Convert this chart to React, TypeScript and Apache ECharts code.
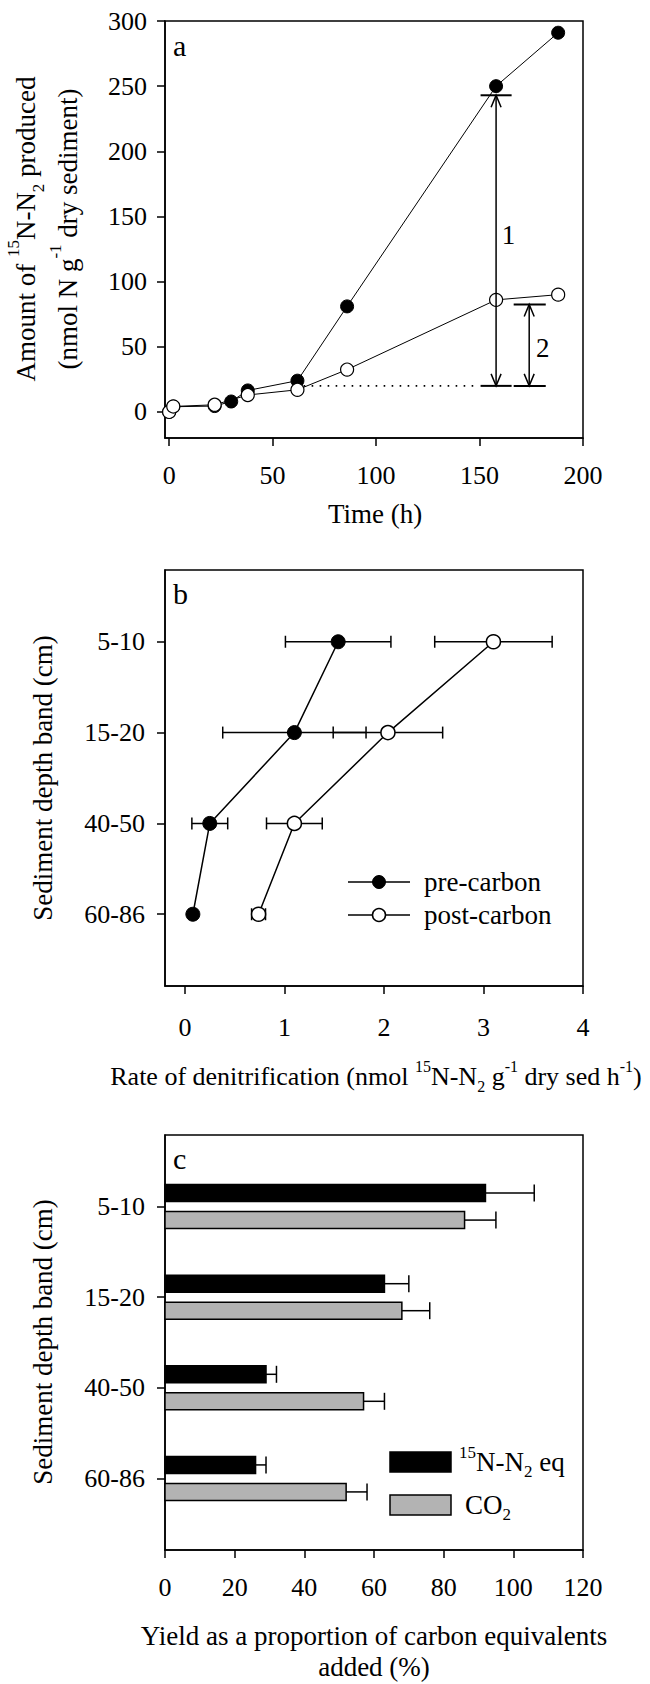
import React, { useEffect, useRef } from "react";
import * as echarts from "echarts";

const FONT = "'Liberation Serif', 'Times New Roman', Times, serif";

// ---------- Panel a: 15N-N2 produced over time ----------
const timePre = [0, 2, 22, 30, 38, 62, 86, 158, 188];
const amountPre = [0, 4, 4.5, 8, 16.5, 24, 81, 250, 291];
const timePost = [0, 2, 22, 38, 62, 86, 158, 188];
const amountPost = [0, 4.2, 5.5, 13, 17, 32.5, 86, 90];
const timeTicks = [0, 50, 100, 150, 200];
const amountTicks = [0, 50, 100, 150, 200, 250, 300];
const baselineTime = [65, 150];
const baselineAmount = [20, 20];
const bracketLabels = ["1", "2"];
const bracketTime = [158, 174];
const bracketFrom = [20, 20];
const bracketTo = [243, 82.5];
const capStart = [150.5, 166.5];
const capEnd = [165.5, 182];
const bracketLabelTime = [164, 180.5];
const bracketLabelAmount = [136, 49];

// ---------- Panel b: denitrification rate by depth ----------
const depthBands = ["5-10", "15-20", "40-50", "60-86"];
const preRate = [1.54, 1.1, 0.25, 0.08];
const preRateErr = [0.53, 0.72, 0.18, 0.03];
const postRate = [3.1, 2.04, 1.1, 0.74];
const postRateErr = [0.59, 0.55, 0.28, 0.07];
const rateTicks = [0, 1, 2, 3, 4];
const depthTicks = [0, 1, 2, 3];

// ---------- Panel c: yield as proportion of carbon added ----------
const n2Yield = [92, 63, 29, 26];
const n2YieldErr = [14, 7, 3, 3];
const co2Yield = [86, 68, 57, 52];
const co2YieldErr = [9, 8, 6, 6];

const rich = (size: number, lh: number) => ({
  n: { fontFamily: FONT, fontSize: size, lineHeight: lh, fill: "#000" },
  sup: { fontFamily: FONT, fontSize: Math.round(size * 0.62), lineHeight: lh, fill: "#000", verticalAlign: "top" },
  sub: { fontFamily: FONT, fontSize: Math.round(size * 0.62), lineHeight: lh, fill: "#000", verticalAlign: "bottom" },
});

const STROKE = { stroke: "#000", lineWidth: 1.5 };

function bracketRender(params: any, api: any) {
  const x = api.value(0);
  const bottom = api.coord([x, api.value(1)]);
  const top = api.coord([x, api.value(2)]);
  const capL = api.coord([api.value(3), api.value(1)])[0];
  const capR = api.coord([api.value(4), api.value(1)])[0];
  const lbl = api.coord([api.value(5), api.value(6)]);
  const cx = top[0];
  const ah = 12;
  const aw = 5;
  return {
    type: "group",
    children: [
      { type: "line", shape: { x1: cx, y1: top[1], x2: cx, y2: bottom[1] }, style: STROKE },
      { type: "line", shape: { x1: capL, y1: top[1], x2: capR, y2: top[1] }, style: { stroke: "#000", lineWidth: 2 } },
      { type: "line", shape: { x1: capL, y1: bottom[1], x2: capR, y2: bottom[1] }, style: { stroke: "#000", lineWidth: 2 } },
      { type: "polyline", shape: { points: [[cx - aw, top[1] + ah], [cx, top[1]], [cx + aw, top[1] + ah]] }, style: { ...STROKE, fill: "none" } },
      { type: "polyline", shape: { points: [[cx - aw, bottom[1] - ah], [cx, bottom[1]], [cx + aw, bottom[1] - ah]] }, style: { ...STROKE, fill: "none" } },
      {
        type: "text",
        x: lbl[0],
        y: lbl[1],
        style: { text: bracketLabels[params.dataIndex], fontFamily: FONT, fontSize: 27, fill: "#000", align: "center", verticalAlign: "middle", textAlign: "center", textVerticalAlign: "middle" },
      },
    ],
  };
}

function hErrorRender(params: any, api: any) {
  const v = api.value(0);
  const i = api.value(1);
  const e = api.value(2);
  const a = api.coord([v - e, i]);
  const b = api.coord([v + e, i]);
  const h = 6;
  return {
    type: "group",
    children: [
      { type: "line", shape: { x1: a[0], y1: a[1], x2: b[0], y2: b[1] }, style: STROKE },
      { type: "line", shape: { x1: a[0], y1: a[1] - h, x2: a[0], y2: a[1] + h }, style: STROKE },
      { type: "line", shape: { x1: b[0], y1: b[1] - h, x2: b[0], y2: b[1] + h }, style: STROKE },
    ],
  };
}

function barRender(offset: number, fill: string) {
  return (params: any, api: any) => {
    const v = api.value(0);
    const i = api.value(1);
    const e = api.value(2);
    const start = api.coord([0, i]);
    const end = api.coord([v, i]);
    const errEnd = api.coord([v + e, i]);
    const cy = start[1] + offset;
    const half = 8.5;
    return {
      type: "group",
      children: [
        { type: "line", shape: { x1: end[0], y1: cy, x2: errEnd[0], y2: cy }, style: STROKE },
        { type: "line", shape: { x1: errEnd[0], y1: cy - half, x2: errEnd[0], y2: cy + half }, style: STROKE },
        { type: "rect", shape: { x: start[0], y: cy - half, width: end[0] - start[0], height: half * 2 }, style: { fill, stroke: "#000", lineWidth: 1.5 } },
      ],
    };
  };
}

function buildOption() {
  const axisLine = { show: true, onZero: false, lineStyle: { color: "#000", width: 1.5 } };
  const tick = { show: true, length: 8, lineStyle: { color: "#000", width: 1.5 } };
  const label = { color: "#000", fontFamily: FONT, fontSize: 26 };
  const gridBase = { left: 165, width: 418, show: true, borderColor: "#000", borderWidth: 1.5, backgroundColor: "transparent" };

  const textEl = (x: number, y: number, text: string, size = 26, extra: any = {}) => ({
    type: "text",
    x,
    y,
    silent: true,
    style: { text, fontFamily: FONT, fontSize: size, fill: "#000", align: "left", verticalAlign: "middle", textAlign: "left", textVerticalAlign: "middle", ...extra },
  });
  const richEl = (x: number, y: number, text: string, size: number, lh: number, rotation = 0) => ({
    type: "text",
    x,
    y,
    rotation,
    silent: true,
    style: { text, rich: rich(size, lh), fontFamily: FONT, fontSize: size, fill: "#000", align: "center", verticalAlign: "middle", textAlign: "center", textVerticalAlign: "middle" },
  });

  return {
    animation: false,
    backgroundColor: "#fff",
    textStyle: { fontFamily: FONT, color: "#000" },
    grid: [
      { ...gridBase, top: 21, height: 417 },
      { ...gridBase, top: 570, height: 416 },
      { ...gridBase, top: 1135, height: 415 },
    ],
    xAxis: [
      {
        gridIndex: 0, type: "value", min: -2, max: 200,
        axisLine, axisTick: { ...tick, customValues: timeTicks },
        axisLabel: { ...label, customValues: timeTicks, margin: 24 },
        splitLine: { show: false },
      },
      {
        gridIndex: 1, type: "value", min: -0.2, max: 4,
        axisLine, axisTick: { ...tick, customValues: rateTicks },
        axisLabel: { ...label, customValues: rateTicks, margin: 28 },
        splitLine: { show: false },
      },
      {
        gridIndex: 2, type: "value", min: 0, max: 120, interval: 20,
        axisLine, axisTick: tick,
        axisLabel: { ...label, margin: 24 },
        splitLine: { show: false },
      },
    ],
    yAxis: [
      {
        gridIndex: 0, type: "value", min: -20, max: 300,
        axisLine, axisTick: { ...tick, customValues: amountTicks },
        axisLabel: { ...label, customValues: amountTicks, margin: 18 },
        splitLine: { show: false },
      },
      {
        gridIndex: 1, type: "value", min: -0.79, max: 3.79, inverse: true,
        axisLine, axisTick: { ...tick, customValues: depthTicks },
        axisLabel: { ...label, customValues: depthTicks, margin: 20, formatter: (v: number) => depthBands[Math.round(v)] ?? "" },
        splitLine: { show: false },
      },
      {
        gridIndex: 2, type: "value", min: -0.79, max: 3.79, inverse: true,
        axisLine, axisTick: { ...tick, customValues: depthTicks },
        axisLabel: { ...label, customValues: depthTicks, margin: 20, formatter: (v: number) => depthBands[Math.round(v)] ?? "" },
        splitLine: { show: false },
      },
    ],
    series: [
      // panel a
      {
        type: "line", xAxisIndex: 0, yAxisIndex: 0, z: 3,
        data: timePre.map((t, i) => [t, amountPre[i]]),
        symbol: "circle", symbolSize: 13,
        itemStyle: { color: "#000", borderColor: "#000", borderWidth: 1 },
        lineStyle: { color: "#000", width: 1 },
      },
      {
        type: "line", xAxisIndex: 0, yAxisIndex: 0, z: 4,
        data: timePost.map((t, i) => [t, amountPost[i]]),
        symbol: "circle", symbolSize: 13,
        itemStyle: { color: "#fff", borderColor: "#000", borderWidth: 1.2 },
        lineStyle: { color: "#000", width: 1 },
      },
      {
        type: "line", xAxisIndex: 0, yAxisIndex: 0, z: 2,
        data: baselineTime.map((t, i) => [t, baselineAmount[i]]),
        symbol: "none",
        lineStyle: { color: "#000", width: 1.6, type: [1.6, 6.4] },
      },
      {
        type: "custom", xAxisIndex: 0, yAxisIndex: 0, z: 5,
        data: bracketTime.map((t, i) => [t, bracketFrom[i], bracketTo[i], capStart[i], capEnd[i], bracketLabelTime[i], bracketLabelAmount[i]]),
        encode: { x: 0, y: 1 },
        renderItem: bracketRender,
      },
      // panel b
      {
        type: "custom", xAxisIndex: 1, yAxisIndex: 1, z: 1,
        data: [
          ...preRate.map((v, i) => [v, i, preRateErr[i]]),
          ...postRate.map((v, i) => [v, i, postRateErr[i]]),
        ],
        encode: { x: 0, y: 1 },
        renderItem: hErrorRender,
      },
      {
        type: "line", xAxisIndex: 1, yAxisIndex: 1, z: 3, name: "pre-carbon",
        data: preRate.map((v, i) => [v, i]),
        symbol: "circle", symbolSize: 14,
        itemStyle: { color: "#000", borderColor: "#000", borderWidth: 1 },
        lineStyle: { color: "#000", width: 1.5 },
      },
      {
        type: "line", xAxisIndex: 1, yAxisIndex: 1, z: 3, name: "post-carbon",
        data: postRate.map((v, i) => [v, i]),
        symbol: "circle", symbolSize: 14,
        itemStyle: { color: "#fff", borderColor: "#000", borderWidth: 1.5 },
        lineStyle: { color: "#000", width: 1.5 },
      },
      // panel c
      {
        type: "custom", xAxisIndex: 2, yAxisIndex: 2, z: 2,
        data: n2Yield.map((v, i) => [v, i, n2YieldErr[i]]),
        encode: { x: 0, y: 1 },
        renderItem: barRender(-13.5, "#000"),
      },
      {
        type: "custom", xAxisIndex: 2, yAxisIndex: 2, z: 2,
        data: co2Yield.map((v, i) => [v, i, co2YieldErr[i]]),
        encode: { x: 0, y: 1 },
        renderItem: barRender(13.5, "#b3b3b3"),
      },
    ],
    graphic: [
      // panel letters
      textEl(173, 45, "a", 30),
      textEl(173, 593, "b", 30),
      textEl(173, 1158, "c", 30),
      // panel a titles
      richEl(47, 229, "{n|Amount of }{sup|15}{n|N-N}{sub|2}{n| produced}\n{n|(nmol N g}{sup|-1}{n| dry sediment)}", 27, 42, Math.PI / 2),
      textEl(375, 514, "Time (h)", 27, { align: "center", textAlign: "center" }),
      // panel b titles
      richEl(43, 778, "{n|Sediment depth band (cm)}", 27, 36, Math.PI / 2),
      richEl(376, 1076, "{n|Rate of denitrification (nmol }{sup|15}{n|N-N}{sub|2}{n| g}{sup|-1}{n| dry sed h}{sup|-1}{n|)}", 26, 36),
      // panel b legend
      { type: "line", silent: true, shape: { x1: 348, y1: 882, x2: 410, y2: 882 }, style: STROKE },
      { type: "circle", silent: true, shape: { cx: 379, cy: 882, r: 6.5 }, style: { fill: "#000", stroke: "#000", lineWidth: 1 } },
      textEl(424, 882, "pre-carbon", 27),
      { type: "line", silent: true, shape: { x1: 348, y1: 915, x2: 410, y2: 915 }, style: STROKE },
      { type: "circle", silent: true, shape: { cx: 379, cy: 915, r: 6.5 }, style: { fill: "#fff", stroke: "#000", lineWidth: 1.5 } },
      textEl(424, 915, "post-carbon", 27),
      // panel c titles
      richEl(43, 1342, "{n|Sediment depth band (cm)}", 27, 36, Math.PI / 2),
      textEl(374, 1651, "Yield as a proportion of carbon equivalents\nadded (%)", 27, { align: "center", textAlign: "center", lineHeight: 31 }),
      // panel c legend
      { type: "rect", silent: true, shape: { x: 390, y: 1452, width: 61, height: 20 }, style: { fill: "#000", stroke: "#000", lineWidth: 1.5 } },
      { type: "rect", silent: true, shape: { x: 390, y: 1495, width: 61, height: 20 }, style: { fill: "#b3b3b3", stroke: "#000", lineWidth: 1.5 } },
      {
        type: "text", x: 459, y: 1462, silent: true,
        style: { text: "{sup|15}{n|N-N}{sub|2}{n| eq}", rich: rich(27, 36), fontFamily: FONT, fontSize: 27, fill: "#000", align: "left", verticalAlign: "middle", textAlign: "left", textVerticalAlign: "middle" },
      },
      {
        type: "text", x: 465, y: 1505, silent: true,
        style: { text: "{n|CO}{sub|2}", rich: rich(27, 36), fontFamily: FONT, fontSize: 27, fill: "#000", align: "left", verticalAlign: "middle", textAlign: "left", textVerticalAlign: "middle" },
      },
    ],
  };
}

export default function App() {
  const ref = useRef<HTMLDivElement>(null);
  useEffect(() => {
    if (!ref.current) return;
    const chart = echarts.init(ref.current, null, { renderer: "svg" });
    chart.setOption(buildOption() as any);
    return () => chart.dispose();
  }, []);
  return (
    <div
      ref={ref}
      style={{ position: "absolute", left: 0, top: 0, width: 650, height: 1684, background: "#fff" }}
    />
  );
}
